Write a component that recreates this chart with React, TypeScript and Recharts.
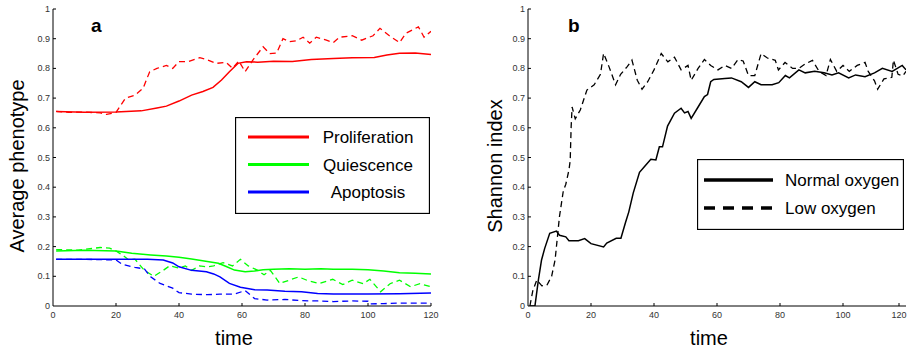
import { LineChart, Line, XAxis, YAxis, Legend, Label, Customized } from "recharts"

type Pt = [number, number]

// panel a: average phenotype over time (solid = normal oxygen, dashed = low oxygen)
const proliferationNormal: Pt[] = [
  [1, 0.655], [10, 0.652], [20, 0.653], [28, 0.657], [33, 0.667], [36, 0.673], [40, 0.69],
  [44, 0.71], [47.6, 0.722], [50.8, 0.736], [53.5, 0.761], [56, 0.789], [58.7, 0.817],
  [61.4, 0.822], [65, 0.821], [70, 0.824], [76, 0.823], [82, 0.83], [89, 0.833], [95, 0.836],
  [102, 0.837], [106, 0.845], [110, 0.851], [115, 0.852], [120, 0.847],
]
const proliferationLow: Pt[] = [
  [1, 0.655], [5, 0.652], [10, 0.653], [15, 0.65], [17, 0.645], [20, 0.652], [23, 0.7], [26, 0.71],
  [28.6, 0.733], [30.7, 0.789], [33, 0.8], [36, 0.81], [38, 0.8], [40, 0.823], [43, 0.823],
  [46.6, 0.836], [48.7, 0.83], [51.8, 0.817], [55, 0.82], [57, 0.8], [59, 0.825], [61, 0.789],
  [63.5, 0.829], [66.7, 0.873], [68.8, 0.85], [71, 0.852], [73, 0.9], [75, 0.89], [77.3, 0.893],
  [79.4, 0.905], [81.5, 0.885], [83.6, 0.905], [86.8, 0.895], [89, 0.887], [91, 0.905], [95, 0.91],
  [98, 0.895], [101.6, 0.91], [103.8, 0.935], [106.8, 0.91], [110, 0.887], [112, 0.918],
  [116, 0.94], [117.8, 0.905], [120, 0.925],
]
const quiescenceNormal: Pt[] = [
  [1, 0.185], [10, 0.188], [20, 0.185], [25, 0.178], [31, 0.172], [36, 0.168], [40, 0.164],
  [44, 0.158], [47, 0.153], [50, 0.148], [52.5, 0.144], [55, 0.133], [57.6, 0.121], [61, 0.115],
  [64, 0.118], [66.7, 0.122], [70, 0.124], [75, 0.125], [80, 0.124], [85, 0.125], [89, 0.124],
  [95, 0.124], [100, 0.122], [105, 0.118], [110, 0.112], [115, 0.11], [120, 0.108],
]
const quiescenceLow: Pt[] = [
  [1, 0.19], [8, 0.188], [15, 0.197], [18, 0.195], [20, 0.185], [22, 0.172], [24, 0.155],
  [26, 0.158], [29, 0.12], [32, 0.1], [35, 0.12], [37, 0.135], [40, 0.128], [42, 0.135], [44, 0.12],
  [46.5, 0.135], [49, 0.132], [51, 0.135], [54, 0.146], [57, 0.135], [59.5, 0.157], [62, 0.135],
  [65, 0.12], [67, 0.105], [69, 0.12], [72, 0.076], [75, 0.087], [78, 0.098], [81, 0.085],
  [84.5, 0.076], [88.8, 0.09], [92, 0.072], [95, 0.087], [98.5, 0.075], [100.6, 0.09], [104, 0.048],
  [107, 0.075], [110, 0.087], [113.5, 0.065], [116.5, 0.075], [120, 0.065],
]
const apoptosisNormal: Pt[] = [
  [1, 0.157], [10, 0.157], [20, 0.157], [30, 0.157], [35, 0.155], [38, 0.145], [40, 0.132],
  [44, 0.12], [48.7, 0.115], [51, 0.108], [53, 0.098], [56, 0.076], [59.5, 0.063], [64, 0.055],
  [68, 0.054], [73.6, 0.05], [78.9, 0.048], [84, 0.042], [89, 0.04], [100, 0.04], [110, 0.041],
  [120, 0.044],
]
const apoptosisLow: Pt[] = [
  [1, 0.157], [10, 0.157], [20, 0.155], [22, 0.14], [26, 0.13], [29, 0.125], [31, 0.098],
  [34, 0.076], [38, 0.06], [40, 0.045], [44, 0.04], [49, 0.038], [53, 0.04], [57.6, 0.04],
  [61, 0.052], [64, 0.025], [68, 0.02], [73.6, 0.022], [79, 0.018], [84, 0.017], [89, 0.015],
  [95, 0.017], [100, 0.016], [100.5, 0.007], [105, 0.008], [110, 0.01], [120, 0.01],
]

// panel b: Shannon index over time
const shannonNormal: Pt[] = [
  [0.6, 0], [2.2, 0], [3.3, 0.088], [4.3, 0.155], [5.3, 0.194], [6.9, 0.245], [9, 0.252],
  [10, 0.238], [12, 0.233], [13, 0.22], [16, 0.22], [18, 0.227], [20, 0.21], [24, 0.199],
  [25, 0.212], [28, 0.228], [29.5, 0.228], [31, 0.283], [32, 0.317], [33.4, 0.38], [35.4, 0.45],
  [37, 0.47], [39, 0.494], [40.6, 0.492], [41.7, 0.536], [42.7, 0.536], [44.3, 0.606],
  [46.5, 0.649], [48.6, 0.666], [49.7, 0.65], [50.8, 0.655], [51.8, 0.632], [54, 0.67],
  [56, 0.705], [57, 0.712], [58, 0.755], [59, 0.763], [62.5, 0.766], [64.6, 0.768], [67.7, 0.755],
  [70, 0.736], [72, 0.755], [74, 0.745], [77.5, 0.745], [79.6, 0.752], [81.7, 0.776], [83, 0.768],
  [86, 0.795], [88, 0.785], [91, 0.79], [94, 0.785], [96.5, 0.778], [98.6, 0.785], [101.8, 0.768],
  [104, 0.778], [107, 0.772], [110, 0.785], [112.5, 0.8], [115.6, 0.79], [118.8, 0.81], [120, 0.795],
]
const shannonLow: Pt[] = [
  [0.6, 0], [1.5, 0.05], [2.8, 0.088], [4.4, 0.068], [6, 0.07], [7.5, 0.1], [8.6, 0.155],
  [10, 0.302], [11.2, 0.387], [12, 0.41], [13, 0.458], [13.4, 0.49], [13.7, 0.604], [14, 0.67],
  [15, 0.63], [16.6, 0.66], [18.7, 0.727], [21, 0.745], [23, 0.78], [24, 0.851], [25.7, 0.806],
  [27.8, 0.745], [29.4, 0.78], [31.5, 0.806], [33, 0.828], [34.7, 0.76], [36.2, 0.73], [38, 0.755],
  [40, 0.795], [42.3, 0.85], [44.4, 0.822], [46.5, 0.838], [48.6, 0.795], [50.8, 0.81],
  [51.8, 0.76], [54, 0.8], [56, 0.83], [58, 0.81], [60.3, 0.795], [62.5, 0.81], [64.6, 0.8],
  [66.7, 0.83], [68.3, 0.825], [70, 0.776], [72, 0.776], [74, 0.85], [76, 0.835], [78.5, 0.827],
  [79.5, 0.795], [81.6, 0.82], [84, 0.8], [86, 0.8], [88, 0.815], [90.3, 0.827], [92.4, 0.79],
  [94.6, 0.776], [96, 0.83], [98, 0.79], [100, 0.81], [102, 0.79], [104.5, 0.81], [107, 0.82],
  [108, 0.79], [110, 0.758], [111, 0.73], [113, 0.765], [115.5, 0.77], [116, 0.828], [117.5, 0.78],
  [119, 0.775], [120, 0.79],
]

const timeTicks = [0, 20, 40, 60, 80, 100, 120]
const valueTicks = [0, 0.1, 0.2, 0.3, 0.4, 0.5, 0.6, 0.7, 0.8, 0.9, 1]
const phenotypeOrder = ["Proliferation", "Quiescence", "Apoptosis"]
const oxygenOrder = ["Normal oxygen", "Low oxygen"]

const toRows = (pts: Pt[]) => pts.map(([t, v]) => ({ t, v }))

const inOrder = (payload: any[] | undefined, order: string[]) =>
  (payload ?? [])
    .filter((p: any) => order.includes(p.value))
    .sort((a: any, b: any) => order.indexOf(a.value) - order.indexOf(b.value))

const FONT = "'Liberation Sans', Arial, Helvetica, sans-serif"

function XTick({ x, y, payload }: any) {
  return (
    <g>
      {payload.value !== 0 && <line x1={x} x2={x} y1={y} y2={y - 3} stroke="#000" />}
      <text x={x} y={y + 12} textAnchor="middle" fontSize={9} fill="#333">
        {payload.value}
      </text>
    </g>
  )
}

function YTick({ x, y, payload }: any) {
  return (
    <g>
      {payload.value !== 0 && <line x1={x} x2={x + 3} y1={y} y2={y} stroke="#000" />}
      <text x={x - 3} y={y + 3} textAnchor="end" fontSize={9} fill="#333">
        {payload.value}
      </text>
    </g>
  )
}

const yTitle = (text: string, gap: number) => ({ viewBox }: any) => {
  const x = viewBox.x + viewBox.width - gap
  const y = viewBox.y + viewBox.height / 2 + 8.5
  return (
    <text x={x} y={y} transform={`rotate(-90 ${x} ${y})`} textAnchor="middle" fontSize={20} fill="#000">
      {text}
    </text>
  )
}

const xTitle = ({ viewBox }: any) => (
  <text x={viewBox.x + viewBox.width / 2 - 8} y={viewBox.y + 39} textAnchor="middle" fontSize={20} fill="#000">
    time
  </text>
)

function PhenotypeLegend({ payload }: any) {
  const items = inOrder(payload, phenotypeOrder)
  return (
    <svg width={195} height={97} style={{ display: "block" }}>
      <rect x={0.5} y={0.5} width={194} height={96} fill="#fff" stroke="#000" strokeWidth={1.3} />
      {items.map((item: any, i: number) => {
        const cy = 20 + i * 27.5
        return (
          <g key={item.value}>
            <line x1={13} x2={74} y1={cy} y2={cy} stroke={item.color} strokeWidth={3} />
            <text x={133} y={cy + 6} textAnchor="middle" fontSize={17} fill="#000">
              {item.value}
            </text>
          </g>
        )
      })}
    </svg>
  )
}

function OxygenLegend({ payload }: any) {
  const items = inOrder(payload, oxygenOrder)
  return (
    <svg width={207} height={71} style={{ display: "block" }}>
      <rect x={0.5} y={0.5} width={206} height={70} fill="#fff" stroke="#000" strokeWidth={1.3} />
      {items.map((item: any, i: number) => {
        const cy = 21 + i * 28
        const dashed = item.payload?.strokeDasharray
        return (
          <g key={item.value}>
            <line
              x1={7}
              x2={76}
              y1={cy}
              y2={cy}
              stroke="#000"
              strokeWidth={3.5}
              strokeDasharray={dashed ? "11 8" : undefined}
            />
            <text x={88} y={cy + 6} fontSize={17} fill="#000">
              {item.value}
            </text>
          </g>
        )
      })}
    </svg>
  )
}

const PanelLetter = (letter: string, x: number) => () => (
  <text x={x} y={32} fontSize={19} fontWeight="bold" fill="#000">
    {letter}
  </text>
)

export default function App() {
  return (
    <div style={{ position: "absolute", left: 0, top: 0, width: 911, height: 352, background: "#fff", fontFamily: FONT }}>
      <div style={{ position: "absolute", left: 0, top: 0 }}>
        <LineChart width={460} height={352} margin={{ top: 9, right: 29, bottom: 16, left: 13 }}>
          <XAxis
            type="number"
            dataKey="t"
            domain={[0, 120]}
            ticks={timeTicks}
            height={30}
            tickSize={0}
            tickMargin={0}
            tickLine={false}
            tick={<XTick />}
            stroke="#000"
            allowDataOverflow
          >
            <Label content={xTitle} />
          </XAxis>
          <YAxis
            type="number"
            domain={[0, 1]}
            ticks={valueTicks}
            width={40}
            tickSize={0}
            tickMargin={0}
            tickLine={false}
            tick={<YTick />}
            stroke="#000"
            allowDataOverflow
          >
            <Label content={yTitle("Average phenotype", 29)} />
          </YAxis>
          <Legend
            layout="horizontal"
            verticalAlign="middle"
            content={<PhenotypeLegend />}
            wrapperStyle={{ left: 235, top: 117, width: 195, height: 97 }}
          />
          <Line data={toRows(proliferationLow)} dataKey="v" name="Proliferation low" legendType="none" stroke="#ff0000" strokeWidth={1.3} strokeDasharray="6 4" dot={false} isAnimationActive={false} />
          <Line data={toRows(quiescenceLow)} dataKey="v" name="Quiescence low" legendType="none" stroke="#00ff00" strokeWidth={1.3} strokeDasharray="6 4" dot={false} isAnimationActive={false} />
          <Line data={toRows(apoptosisLow)} dataKey="v" name="Apoptosis low" legendType="none" stroke="#0000ff" strokeWidth={1.3} strokeDasharray="6 4" dot={false} isAnimationActive={false} />
          <Line data={toRows(proliferationNormal)} dataKey="v" name="Proliferation" stroke="#ff0000" strokeWidth={1.5} dot={false} isAnimationActive={false} />
          <Line data={toRows(quiescenceNormal)} dataKey="v" name="Quiescence" stroke="#00ff00" strokeWidth={1.5} dot={false} isAnimationActive={false} />
          <Line data={toRows(apoptosisNormal)} dataKey="v" name="Apoptosis" stroke="#0000ff" strokeWidth={1.5} dot={false} isAnimationActive={false} />
          <Customized component={PanelLetter("a", 91)} />
        </LineChart>
      </div>
      <div style={{ position: "absolute", left: 460, top: 0 }}>
        <LineChart width={451} height={352} margin={{ top: 9, right: 5, bottom: 16, left: 28 }}>
          <XAxis
            type="number"
            dataKey="t"
            domain={[0, 120]}
            ticks={timeTicks}
            height={30}
            tickSize={0}
            tickMargin={0}
            tickLine={false}
            tick={<XTick />}
            stroke="#000"
            allowDataOverflow
          >
            <Label content={xTitle} />
          </XAxis>
          <YAxis
            type="number"
            domain={[0, 1]}
            ticks={valueTicks}
            width={40}
            tickSize={0}
            tickMargin={0}
            tickLine={false}
            tick={<YTick />}
            stroke="#000"
            allowDataOverflow
          >
            <Label content={yTitle("Shannon index", 26)} />
          </YAxis>
          <Legend
            layout="horizontal"
            verticalAlign="middle"
            content={<OxygenLegend />}
            wrapperStyle={{ left: 237, top: 159, width: 207, height: 71 }}
          />
          <Line data={toRows(shannonNormal)} dataKey="v" name="Normal oxygen" stroke="#000" strokeWidth={1.5} dot={false} isAnimationActive={false} />
          <Line data={toRows(shannonLow)} dataKey="v" name="Low oxygen" stroke="#000" strokeWidth={1.3} strokeDasharray="6 4" dot={false} isAnimationActive={false} />
          <Customized component={PanelLetter("b", 108)} />
        </LineChart>
      </div>
    </div>
  )
}
